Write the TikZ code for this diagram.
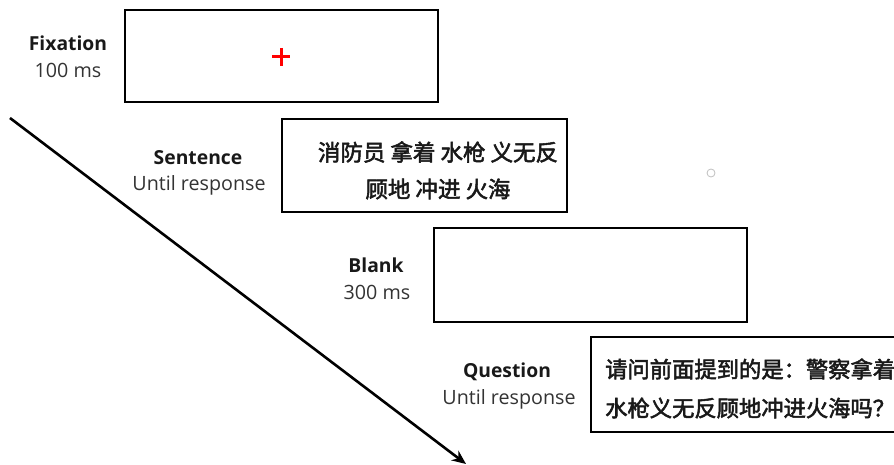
\documentclass[tikz,border=0pt]{standalone}
\usepackage{fontspec}
\setmainfont{Open Sans}
\newfontfamily\cjk[FakeBold=2.3]{Noto Sans CJK SC}
\usetikzlibrary{arrows.meta}
\begin{document}
\begin{tikzpicture}[x=1pt,y=-1pt,
  screen/.style={draw=black,line width=2.6pt,fill=white},
  lbl/.style={align=center,inner sep=0pt},
  ttl/.style={font=\fontsize{19.3}{20}\selectfont\bfseries,text=black!90},
  dur/.style={font=\fontsize{19.7}{20}\selectfont,text=black!80},
  zh/.style={font=\cjk\fontsize{22.5}{24}\selectfont,inner sep=0pt,text=black!90}]
\useasboundingbox (0,0) rectangle (894,465);
% arrow
\coordinate (as) at (10,118);
\coordinate (ae) at (466,464);
\draw[line width=2.6pt,-{Stealth[length=14pt,width=12pt]}] (as) -- (ae);
% boxes
\draw[screen] (125,10) rectangle (438,102);
\draw[screen] (282,119) rectangle (567,212);
\draw[screen] (434,228) rectangle (747,322);
\draw[screen] (591,337) rectangle (900,432);
% red cross
\draw[red,line width=3pt] (272,57) -- (290,57) (281,48) -- (281,66);
% labels
\node[lbl,ttl] (fixt) at (68,43) {Fixation};
\node[lbl,dur] (fixd) at (68,70) {100 ms};
\node[lbl,ttl] (sent) at (198,158) {Sentence};
\node[lbl,dur] (send) at (199,185) {Until response};
\node[lbl,ttl] (blat) at (376,265) {Blank};
\node[lbl,dur] (blad) at (377,292) {300 ms};
\node[lbl,ttl] (quet) at (507,372) {Question};
\node[lbl,dur] (qued) at (509,399) {Until response};
% chinese text
\node[zh] (s1) at (438,152) {消防员 拿着 水枪 义无反};
\node[zh] (s2) at (438,189) {顾地 冲进 火海};
\node[zh,anchor=west,font=\cjk\fontsize{22.3}{24}\selectfont] (q1) at (605,369) {请问前面提到的是：警察拿着};
\node[zh,anchor=west,font=\cjk\fontsize{22.3}{24}\selectfont] (q2) at (605,408) {水枪义无反顾地冲进火海吗？};
% faint circle
\draw[black!25,line width=0.8pt] (711,173) circle (4);
\end{tikzpicture}
\end{document}
